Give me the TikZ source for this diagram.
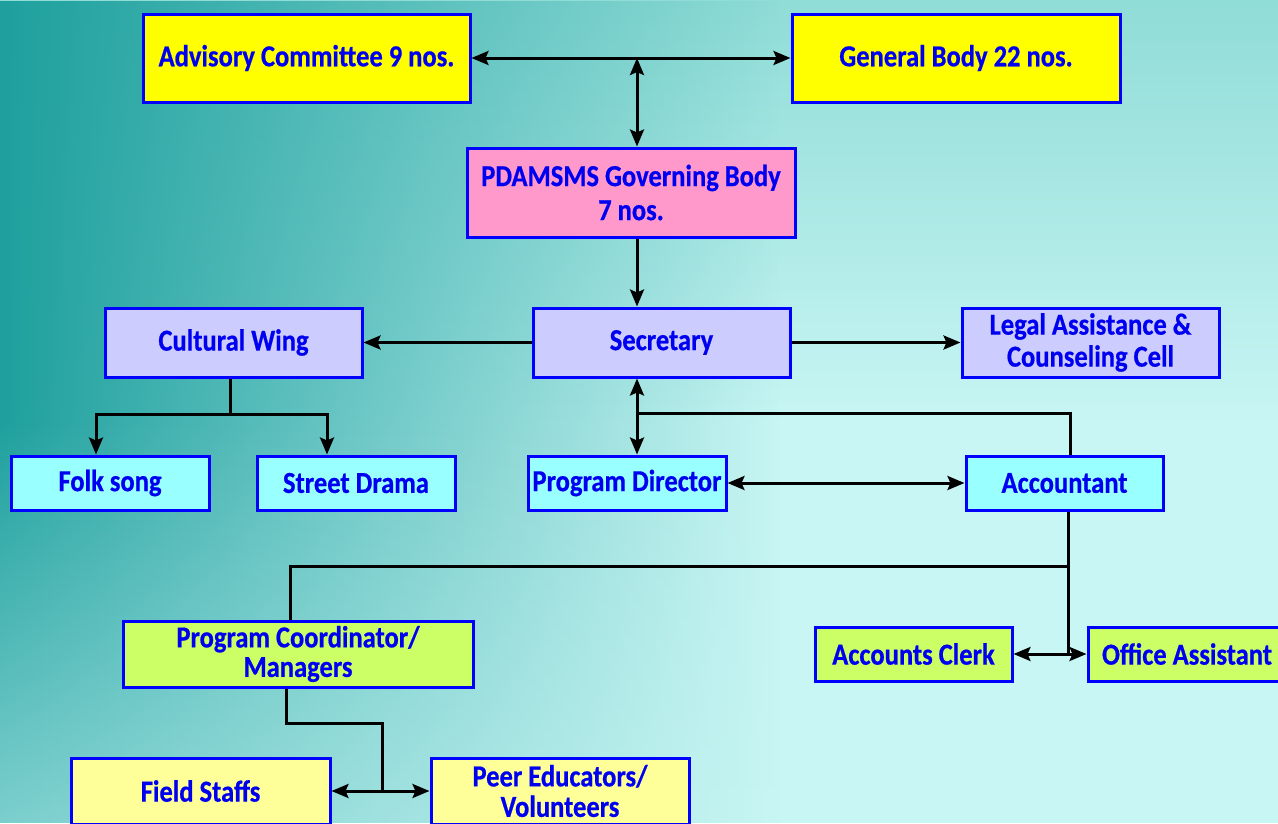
\documentclass[tikz,border=0pt]{standalone}
\usepackage{fontspec}
\setmainfont{Carlito}[FakeStretch=0.87,FakeBold=0.6]
\usetikzlibrary{arrows.meta,fadings}
\definecolor{bgbase}{RGB}{200,246,244}
\definecolor{bgdark}{RGB}{30,160,158}
\definecolor{bgtop}{RGB}{130,214,208}
\definecolor{bglight}{RGB}{200,246,244}
\definecolor{bordblue}{RGB}{0,0,255}
\definecolor{txtblue}{RGB}{0,0,240}
\definecolor{cyel}{RGB}{255,255,0}
\definecolor{cpink}{RGB}{255,153,204}
\definecolor{clav}{RGB}{204,204,255}
\definecolor{ccyan}{RGB}{153,255,255}
\definecolor{cgreen}{RGB}{204,255,102}
\definecolor{clyel}{RGB}{255,255,153}
\tikzfading[name=fadeR, left color=transparent!0, right color=transparent!100]
\tikzfading[name=fadeD, top color=transparent!0, bottom color=transparent!100]
\tikzfading[name=fadeU, top color=transparent!100, bottom color=transparent!0]
\tikzset{
  box/.style={draw=bordblue, line width=3pt, text=txtblue,
    font=\bfseries\fontsize{30.5}{32}\selectfont, align=center, inner sep=0pt},
  conn/.style={line width=3pt, black},
  >={Stealth[length=17pt,width=14pt,inset=3pt]}
}
\begin{document}
\begin{tikzpicture}[x=1pt,y=-1pt]
\clip (0,0) rectangle (1278,823);
% background
\fill[bgbase] (0,0) rectangle (1278,823);
\fill[bgtop, path fading=fadeD, opacity=0.8] (0,0) rectangle (1278,420);
\fill[bgdark, path fading=fadeR] (0,0) rectangle (780,823);
\fill[bglight, path fading=fadeU, opacity=0.55] (0,420) rectangle (1278,823);
% nodes
\node[box, fill=cyel, minimum width=327pt, minimum height=88pt] (adv) at (306.5,58) {Advisory Committee 9 nos.};
\node[box, fill=cyel, minimum width=328pt, minimum height=88pt] (gen) at (956,58) {General Body 22 nos.};
\node[box, fill=cpink, minimum width=328pt, minimum height=89pt, font=\bfseries\fontsize{30.5}{34}\selectfont] (gov) at (631,192.5) {PDAMSMS Governing Body\\7 nos.};
\node[box, fill=clav, minimum width=257pt, minimum height=69pt] (cult) at (233.5,342.5) {Cultural Wing};
\node[box, fill=clav, minimum width=257pt, minimum height=69pt] (sec) at (661.5,342.5) {Secretary};
\node[box, fill=clav, minimum width=257pt, minimum height=69pt] (legal) at (1090.5,342.5) {Legal Assistance \&\\Counseling Cell};
\node[box, fill=ccyan, minimum width=198pt, minimum height=54pt] (folk) at (110,483) {Folk song};
\node[box, fill=ccyan, minimum width=198pt, minimum height=54pt] (street) at (356,483) {Street Drama};
\node[box, fill=ccyan, minimum width=198pt, minimum height=54pt] (pdir) at (627,483) {Program Director};
\node[box, fill=ccyan, minimum width=197pt, minimum height=54pt] (acct) at (1064.5,483) {Accountant};
\node[box, fill=cgreen, minimum width=350pt, minimum height=66pt, font=\bfseries\fontsize{30.5}{29.5}\selectfont] (pcoord) at (298,654) {Program Coordinator/\\Managers};
\node[box, fill=cgreen, minimum width=197pt, minimum height=54pt] (clerk) at (913.5,654) {Accounts Clerk};
\node[box, fill=cgreen, minimum width=198pt, minimum height=54pt] (office) at (1187,654) {Office Assistant};
\node[box, fill=clyel, minimum width=259pt, minimum height=66pt] (field) at (200.5,791) {Field Staffs};
\node[box, fill=clyel, minimum width=258pt, minimum height=66pt, font=\bfseries\fontsize{30.5}{30.5}\selectfont] (peer) at (560,791) {Peer Educators/\\Volunteers};
% junction coordinates
\coordinate (j1) at (637,58);
\coordinate (c1) at (230,414);
\coordinate (s1) at (637,413);
\coordinate (a1) at (1068,566);
\coordinate (p1) at (382,791);
% connectors
\draw[conn,<->] (adv.east) -- (gen.west);
\draw[conn,<->] (j1) -- (j1 |- gov.north);
\draw[conn,->] (j1 |- gov.south) -- (j1 |- sec.north);
\draw[conn,->] (sec.west) -- (cult.east);
\draw[conn,->] (sec.east) -- (legal.west);
\draw[conn] (c1 |- cult.south) -- (c1);
\draw[conn,->] (c1) -| ([xshift=-14pt]folk.north);
\draw[conn,->] (c1) -| ([xshift=-29pt]street.north);
\draw[conn,<->] (s1 |- sec.south) -- (s1 |- pdir.north);
\draw[conn] (s1) -| ([xshift=5.5pt]acct.north);
\draw[conn,<->] (pdir.east) -- (acct.west);
\draw[conn] (a1 |- acct.south) -- (a1 |- clerk.east);
\draw[conn,<->] (clerk.east) -- (office.west);
\draw[conn] (a1) -| ([xshift=-8pt]pcoord.north);
\draw[conn] ([xshift=-12pt]pcoord.south) -- ++(0,35) -| (p1);
\draw[conn,<->] (field.east) -- (peer.west);
\end{tikzpicture}
\end{document}
